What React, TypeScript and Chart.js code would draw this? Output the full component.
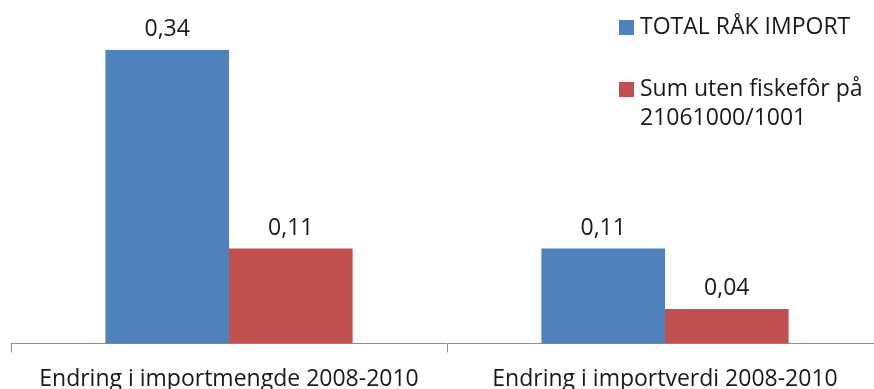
import React, { useEffect, useRef } from "react";
import { Chart, registerables } from "chart.js";

Chart.register(...registerables);

const categories = ["Endring i importmengde 2008-2010", "Endring i importverdi 2008-2010"];
const totalImport = [0.34, 0.11];
const sumUtenFiskefor = [0.11, 0.04];
const seriesNames = ["TOTAL RÅK IMPORT", ["Sum uten fiskefôr på", "21061000/1001"]];
const colors = ["#4F81BD", "#C0504D"];

const FONT = "'Open Sans', sans-serif";

const dataLabels = {
  id: "dataLabels",
  afterDatasetsDraw(chart: any) {
    const ctx = chart.ctx;
    ctx.save();
    ctx.font = `23px ${FONT}`;
    ctx.fillStyle = "#1a1a1a";
    ctx.textAlign = "center";
    ctx.textBaseline = "bottom";
    chart.data.datasets.forEach((ds: any, i: number) => {
      const meta = chart.getDatasetMeta(i);
      meta.data.forEach((bar: any, j: number) => {
        const v = ds.data[j] as number;
        ctx.fillText(v.toFixed(2).replace(".", ","), bar.x, bar.y - 9);
      });
    });
    ctx.restore();
  },
};

const customLegend = {
  id: "customLegend",
  afterDraw(chart: any) {
    const ctx = chart.ctx;
    ctx.save();
    ctx.font = `23px ${FONT}`;
    ctx.textAlign = "left";
    ctx.textBaseline = "middle";
    const x = 619;
    const rows = [27, 89];
    seriesNames.forEach((name: any, i: number) => {
      ctx.fillStyle = colors[i];
      ctx.fillRect(x, rows[i] - 7, 15, 15);
      ctx.fillStyle = "#1a1a1a";
      const lines = Array.isArray(name) ? name : [name];
      lines.forEach((l: string, k: number) => {
        ctx.fillText(l, x + 21, rows[i] + k * 29);
      });
    });
    ctx.restore();
  },
};

export default function App() {
  const ref = useRef<HTMLCanvasElement>(null);
  useEffect(() => {
    if (!ref.current) return;
    const chart = new Chart(ref.current, {
      type: "bar",
      data: {
        labels: categories,
        datasets: [
          { label: "TOTAL RÅK IMPORT", data: totalImport, backgroundColor: colors[0] },
          { label: "Sum uten fiskefôr på 21061000/1001", data: sumUtenFiskefor, backgroundColor: colors[1] },
        ],
      },
      options: {
        animation: false,
        responsive: false,
        maintainAspectRatio: false,
        layout: { padding: { left: 11, right: 1, top: 0, bottom: 0 } },
        datasets: { bar: { categoryPercentage: 0.567, barPercentage: 1 } } as any,
        plugins: { legend: { display: false }, tooltip: { enabled: false } },
        scales: {
          y: { display: false, min: 0, max: 0.398 },
          x: {
            offset: true,
            grid: { display: true, drawOnChartArea: false, tickLength: 9, color: "#8c8c8c", offset: true },
            border: { display: true, color: "#8c8c8c", width: 1 },
            ticks: { color: "#1a1a1a", font: { family: FONT, size: 23 }, padding: 13, maxRotation: 0 },
          },
        },
      },
      plugins: [dataLabels, customLegend],
    });
    return () => chart.destroy();
  }, []);
  return (
    <div style={{ position: "fixed", left: 0, top: 0, width: 874, height: 389, overflow: "hidden", background: "#fff" }}>
      <canvas ref={ref} width={884} height={406} style={{ display: "block" }} />
    </div>
  );
}
